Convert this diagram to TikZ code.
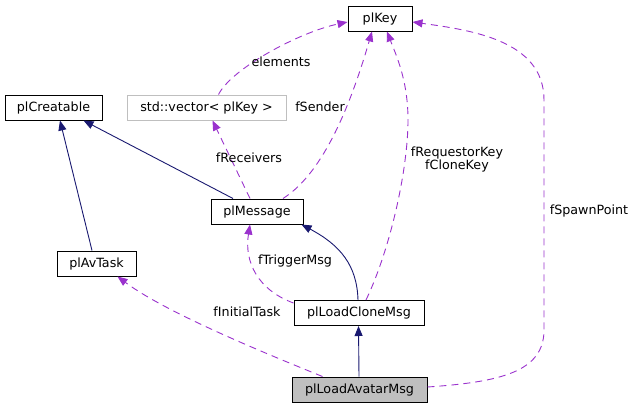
\documentclass[tikz,border=0pt]{standalone}
\usepackage{fontspec}
\setmainfont{DejaVu Sans}
\usetikzlibrary{arrows.meta}
\definecolor{navy}{HTML}{191970}
\definecolor{orchid}{HTML}{9A32CD}
\definecolor{boxgray}{HTML}{BFBFBF}
\begin{document}
\begin{tikzpicture}[x=1pt,y=-1pt,
  cls/.style={draw=black, line width=1pt, minimum height=25pt, inner sep=0pt, fill=white, font=\fontsize{12.7}{14}\selectfont},
  ext/.style={cls, draw=boxgray},
  cur/.style={cls, fill=boxgray},
  lbl/.style={inner sep=0pt, font=\fontsize{12.7}{14}\selectfont, align=center},
  inh/.style={navy, line width=0.9pt, -{Triangle[length=10pt,width=8pt]}},
  rel/.style={orchid, line width=0.9pt, dash pattern=on 7pt off 5pt, -{Triangle[length=10pt,width=8pt]}}]
\useasboundingbox (0,0) rectangle (635,408);
\node[cls, minimum width=64pt]  (key) at (380,18.5) {plKey};
\node[cls, minimum width=97pt]  (creat) at (53.5,107.5) {plCreatable};
\node[ext, minimum width=159pt] (vec) at (206.5,107.5) {std::vector< plKey >};
\node[cls, minimum width=92pt]  (msg) at (257,211.5) {plMessage};
\node[cls, minimum width=79pt]  (task) at (96.5,263.5) {plAvTask};
\node[cls, minimum width=130pt] (clone) at (359,313) {plLoadCloneMsg};
\node[cur, minimum width=135pt] (avatar) at (359.5,389.5) {plLoadAvatarMsg};
% inheritance
\draw[inh] ([xshift=-4.5pt]task.north) -- ([xshift=6.5pt]creat.south);
\draw[inh] ([xshift=-24pt]msg.north) -- ([xshift=30pt]creat.south);
\draw[inh] ([xshift=-1pt]clone.north) .. controls (357,265) and (340,245) .. ([xshift=-2pt]msg.south east);
\draw[inh] ([xshift=-0.5pt]avatar.north) -- ([xshift=-0.5pt]clone.south);
% relations
\draw[rel] ([xshift=12pt]vec.north) .. controls (232,68) and (300,32) .. ([yshift=-3.5pt]key.west);
\node[lbl] (lelem) at (281,62) {elements};
\draw[rel] ([xshift=26pt]msg.north) .. controls (325,172) and (352,100) .. ([xshift=-8pt]key.south);
\node[lbl] (lsend) at (320,107) {fSender};
\draw[rel] ([xshift=-7pt]msg.north) -- ([xshift=6pt]vec.south);
\node[lbl] (lrecv) at (249,158) {fReceivers};
\draw[rel] ([xshift=7pt]clone.north) .. controls (390,250) and (408,170) .. (408,120) .. controls (408,80) and (396,55) .. ([xshift=7pt]key.south);
\node[lbl] (lreq) at (457,159) {fRequestorKey\\[-1pt]fCloneKey};
\draw[rel] ([yshift=10pt]clone.west) .. controls (258,290) and (244,262) .. ([xshift=-7pt]msg.south);
\node[lbl] (ltrig) at (295,261) {fTriggerMsg};
\draw[rel] ([xshift=-37pt]avatar.north) .. controls (262,352) and (165,312) .. ([xshift=21pt]task.south);
\node[lbl] (linit) at (247,312) {fInitialTask};
\draw[rel] ([yshift=2.5pt]avatar.east) .. controls (500,382) and (544,372) .. (544,330) -- (544,100) .. controls (544,40) and (470,30) .. ([yshift=-3.5pt]key.east);
\node[lbl] (lspawn) at (589,211) {fSpawnPoint};
\end{tikzpicture}
\end{document}
